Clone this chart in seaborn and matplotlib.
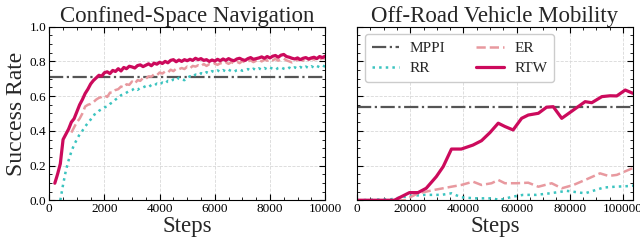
import seaborn as sns
import matplotlib.pyplot as plt
from matplotlib.ticker import AutoMinorLocator

# ---- Confined-Space Navigation (left) ----
left_steps_rtw = list(range(200, 10001, 100))
left_rtw = [0.098, 0.15, 0.21, 0.35, 0.38, 0.41, 0.45, 0.47, 0.51, 0.55,
            0.58, 0.615, 0.64, 0.67, 0.69, 0.705, 0.72, 0.715, 0.735, 0.74,
            0.73, 0.748, 0.742, 0.758, 0.745, 0.765, 0.758, 0.772, 0.768, 0.762,
            0.776, 0.78, 0.77, 0.778, 0.786, 0.775, 0.79, 0.784, 0.795, 0.788,
            0.80, 0.792, 0.806, 0.81, 0.798, 0.808, 0.80, 0.81, 0.804, 0.812,
            0.806, 0.818, 0.81, 0.816, 0.806, 0.81, 0.80, 0.808, 0.802, 0.812,
            0.804, 0.814, 0.806, 0.816, 0.808, 0.804, 0.814, 0.818, 0.81, 0.806,
            0.816, 0.822, 0.812, 0.816, 0.82, 0.826, 0.818, 0.828, 0.82, 0.83,
            0.834, 0.824, 0.836, 0.84, 0.828, 0.824, 0.818, 0.814, 0.82, 0.81,
            0.818, 0.822, 0.814, 0.82, 0.824, 0.816, 0.828, 0.822, 0.83]

left_steps_er = list(range(800, 10001, 100))
left_er = [0.39, 0.42, 0.45, 0.47, 0.50, 0.54, 0.55, 0.555, 0.565, 0.58,
           0.59, 0.595, 0.605, 0.595, 0.62, 0.62, 0.635, 0.64, 0.655, 0.65,
           0.668, 0.665, 0.684, 0.672, 0.692, 0.688, 0.705, 0.70, 0.714, 0.712,
           0.725, 0.72, 0.736, 0.73, 0.742, 0.736, 0.752, 0.744, 0.758, 0.755,
           0.762, 0.756, 0.77, 0.76, 0.774, 0.77, 0.778, 0.772, 0.785, 0.774,
           0.784, 0.78, 0.788, 0.78, 0.79, 0.784, 0.794, 0.786, 0.796, 0.788,
           0.798, 0.79, 0.802, 0.794, 0.80, 0.806, 0.796, 0.804, 0.81, 0.80,
           0.81, 0.804, 0.812, 0.806, 0.815, 0.804, 0.812, 0.816, 0.806, 0.80,
           0.794, 0.802, 0.808, 0.812, 0.804, 0.814, 0.808, 0.816, 0.81, 0.818,
           0.81, 0.82, 0.815]

left_steps_rr = list(range(400, 10001, 100))
left_rr = [0.0, 0.09, 0.17, 0.23, 0.28, 0.32, 0.35, 0.38, 0.40, 0.425,
           0.445, 0.465, 0.49, 0.50, 0.515, 0.525, 0.535, 0.54, 0.555, 0.565,
           0.58, 0.59, 0.605, 0.61, 0.62, 0.63, 0.635, 0.645, 0.636, 0.648,
           0.65, 0.658, 0.652, 0.664, 0.66, 0.672, 0.666, 0.678, 0.672, 0.688,
           0.684, 0.696, 0.69, 0.706, 0.696, 0.692, 0.706, 0.714, 0.71, 0.724,
           0.72, 0.732, 0.726, 0.738, 0.732, 0.744, 0.738, 0.748, 0.74, 0.75,
           0.742, 0.752, 0.744, 0.74, 0.75, 0.754, 0.746, 0.75, 0.756, 0.748,
           0.758, 0.75, 0.76, 0.752, 0.762, 0.754, 0.764, 0.758, 0.752, 0.762,
           0.766, 0.758, 0.754, 0.764, 0.756, 0.766, 0.758, 0.768, 0.76, 0.77,
           0.762, 0.772, 0.764, 0.774, 0.766, 0.776, 0.77]

left_mppi = 0.712

# ---- Off-Road Vehicle Mobility (right) ----
right_steps_rtw = [0, 14000, 19700, 22900, 26000, 29800, 32400, 35500, 39200, 43600,
                   46800, 50000, 53100, 55600, 58700, 61900, 64400, 68200, 71300, 73800,
                   77000, 81400, 85800, 88300, 92100, 95200, 97700, 100900, 103800]
right_rtw = [0.0, 0.0, 0.044, 0.044, 0.069, 0.136, 0.194, 0.295, 0.295, 0.318,
             0.343, 0.39, 0.444, 0.425, 0.405, 0.472, 0.491, 0.501, 0.536, 0.539,
             0.472, 0.52, 0.568, 0.562, 0.597, 0.602, 0.601, 0.635, 0.616]

right_steps_er = [0, 17800, 22900, 29200, 35500, 39200, 43600, 46800, 50600, 53100,
                  55600, 60000, 64400, 68200, 73200, 77000, 81400, 86400, 91400, 94600,
                  97700, 102800, 104500]
right_er = [0.0, 0.0, 0.04, 0.06, 0.078, 0.088, 0.107, 0.088, 0.098, 0.117,
            0.098, 0.098, 0.101, 0.078, 0.098, 0.069, 0.088, 0.121, 0.155, 0.14,
            0.146, 0.179, 0.19]

right_steps_rr = [0, 12800, 19700, 25400, 31700, 35500, 39200, 44300, 50600, 53700,
                  58700, 62500, 67500, 72600, 78900, 85800, 92700, 97100, 102800, 104500]
right_rr = [0.0, 0.006, 0.025, 0.031, 0.031, 0.04, 0.017, 0.011, 0.011, 0.002,
            0.021, 0.031, 0.031, 0.04, 0.054, 0.04, 0.073, 0.078, 0.082, 0.085]

right_mppi = 0.535

titles = ["Confined-Space Navigation", "Off-Road Vehicle Mobility"]
x_ticks_left = [0, 2000, 4000, 6000, 8000, 10000]
x_ticks_right = [0, 20000, 40000, 60000, 80000, 100000]
y_ticks = [0.0, 0.2, 0.4, 0.6, 0.8, 1.0]

c_mppi = "#555555"
c_rr = "#3cc4c0"
c_er = "#e8999f"
c_rtw = "#cc0a5c"

sns.set_theme(style="whitegrid")
plt.rcParams["font.family"] = ["Liberation Serif", "DejaVu Serif"]

fig, axes = plt.subplots(1, 2, figsize=(6.4, 2.46), dpi=100, sharey=True)
fig.subplots_adjust(left=0.077, right=0.989, bottom=0.186, top=0.8915, wspace=0.116)

ax = axes[0]
ax.axhline(left_mppi, color=c_mppi, ls="-.", lw=1.6, label="MPPI")
sns.lineplot(x=left_steps_rr, y=left_rr, ax=ax, color=c_rr, ls=":", lw=1.8, label="RR")
sns.lineplot(x=left_steps_er, y=left_er, ax=ax, color=c_er, ls="--", lw=1.8, label="ER")
sns.lineplot(x=left_steps_rtw, y=left_rtw, ax=ax, color=c_rtw, ls="-", lw=2.3, label="RTW")
ax.set_xlim(0, 10000)
ax.set_xticks(x_ticks_left)
ax.get_legend().remove()

ax = axes[1]
ax.axhline(right_mppi, color=c_mppi, ls="-.", lw=1.6, label="MPPI")
sns.lineplot(x=right_steps_rr, y=right_rr, ax=ax, color=c_rr, ls=":", lw=1.8, label="RR")
sns.lineplot(x=right_steps_er, y=right_er, ax=ax, color=c_er, ls="--", lw=1.8, label="ER")
sns.lineplot(x=right_steps_rtw, y=right_rtw, ax=ax, color=c_rtw, ls="-", lw=2.3, label="RTW")
ax.set_xlim(0, 103800)
ax.set_xticks(x_ticks_right)
ax.legend(loc="upper left", ncol=2, fontsize=11, frameon=True, fancybox=True,
          edgecolor="#cccccc", framealpha=1.0, handlelength=1.8, handletextpad=0.7,
          columnspacing=2.0, borderpad=0.45, labelspacing=0.45)

for i, ax in enumerate(axes):
    ax.set_ylim(0, 1.0)
    ax.set_yticks(y_ticks)
    ax.set_title(titles[i], fontsize=16.5, pad=3)
    ax.set_xlabel("Steps", fontsize=16.5, labelpad=1)
    ax.grid(True, ls="--", lw=0.6, color="#d8d8d8")
    ax.xaxis.set_minor_locator(AutoMinorLocator())
    ax.yaxis.set_minor_locator(AutoMinorLocator())
    ax.tick_params(which="both", direction="in", top=True, right=True,
                   bottom=True, left=True, colors="black", labelsize=9.5, pad=2)
    ax.tick_params(which="major", length=4, width=0.8)
    ax.tick_params(which="minor", length=2, width=0.6)
    for s in ax.spines.values():
        s.set_edgecolor("black")
        s.set_linewidth(0.8)
axes[0].set_ylabel("Success Rate", fontsize=17, labelpad=2)
axes[1].set_ylabel("")

fig.savefig("out.png", dpi=100)
